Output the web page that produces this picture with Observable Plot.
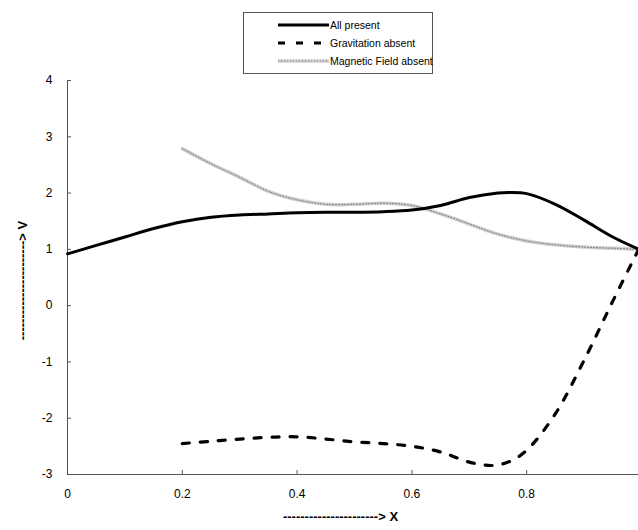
<!DOCTYPE html>
<html><head><meta charset="utf-8">
<script src="https://cdn.jsdelivr.net/npm/d3@7"></script>
<script src="https://cdn.jsdelivr.net/npm/@observablehq/plot@0.6"></script>
<style>body{margin:0;background:#fff} #chart{width:638px;height:530px}</style>
</head><body><div id="chart"></div>
<script>
// Data
const xAll = [0, 0.05, 0.1, 0.15, 0.2, 0.25, 0.3, 0.35, 0.4, 0.45, 0.5, 0.55, 0.6, 0.65, 0.7, 0.75, 0.77, 0.8, 0.85, 0.9, 0.95, 1.0];
const vAll = [0.92, 1.07, 1.22, 1.37, 1.49, 1.57, 1.61, 1.63, 1.65, 1.66, 1.66, 1.67, 1.70, 1.78, 1.92, 2.0, 2.01, 1.99, 1.80, 1.52, 1.22, 0.98];
const xGrav = [0.2, 0.25, 0.3, 0.35, 0.4, 0.45, 0.5, 0.55, 0.6, 0.65, 0.7, 0.74, 0.77, 0.8, 0.85, 0.9, 0.95, 1.0];
const vGrav = [-2.45, -2.41, -2.37, -2.34, -2.33, -2.37, -2.42, -2.45, -2.50, -2.60, -2.78, -2.84, -2.77, -2.57, -1.92, -0.97, 0.08, 1.1];
const xMag = [0.2, 0.25, 0.3, 0.35, 0.4, 0.45, 0.5, 0.55, 0.6, 0.65, 0.7, 0.75, 0.8, 0.85, 0.9, 0.95, 1.0];
const vMag = [2.79, 2.52, 2.28, 2.03, 1.88, 1.80, 1.80, 1.82, 1.78, 1.63, 1.45, 1.27, 1.15, 1.08, 1.04, 1.02, 1.0];
const xTicks = [0, 0.2, 0.4, 0.6, 0.8, 1];
const yTicks = [-3, -2, -1, 0, 1, 2, 3, 4];
const seriesNames = ["All present", "Gravitation absent", "Magnetic Field absent"];
const xTitle = "----------------------> X";
const yTitle = "-----------------------> V";

const allData = xAll.map((x, i) => ({x, v: vAll[i]}));
const gravData = xGrav.map((x, i) => ({x, v: vGrav[i]}));
const magData = xMag.map((x, i) => ({x, v: vMag[i]}));
const curve = "catmull-rom";
const font = "'Liberation Sans', Arial, sans-serif";

const plot = Plot.plot({
  width: 638, height: 530,
  marginLeft: 67, marginRight: -3, marginTop: 80, marginBottom: 56,
  style: {fontFamily: font, fontSize: "12px", background: "white", color: "black"},
  x: {domain: [0, 1]},
  y: {domain: [-3, 4]},
  marks: [
    Plot.ruleX([0], {stroke: "#555"}),
    Plot.ruleY([-3], {stroke: "#555"}),
    Plot.axisX(xTicks, {tickSize: -4, tickPadding: 19, tickFormat: d => String(d), label: null, stroke: "#555"}),
    Plot.axisY(yTicks, {tickSize: -4, tickPadding: 19, tickFormat: d => String(d), label: null, stroke: "#555"}),
    Plot.line(magData, {x: "x", y: "v", stroke: "#cfcfcf", strokeWidth: 3.5, curve}),
    Plot.line(magData, {x: "x", y: "v", stroke: "#777", strokeWidth: 1, strokeDasharray: "1,2", curve}),
    Plot.line(allData, {x: "x", y: "v", stroke: "black", strokeWidth: 3, curve}),
    Plot.line(gravData, {x: "x", y: "v", stroke: "black", strokeWidth: 3.2, strokeDasharray: "7,11", curve}),
    Plot.text([xTitle], {frameAnchor: "bottom", dy: 46, dx: -14, fontWeight: "bold", fontSize: 13}),
    Plot.text([yTitle], {frameAnchor: "left", textAnchor: "middle", dx: -45, dy: 3, rotate: -90, fontWeight: "bold", fontSize: 13})
  ]
});
document.getElementById("chart").append(plot);

// Legend box drawn into the same SVG
const svg = d3.select(plot);
const lg = svg.append("g").attr("font-family", font).attr("font-size", 10.5).attr("text-anchor", "start");
lg.append("rect").attr("x", 243.5).attr("y", 12.5).attr("width", 189).attr("height", 61)
  .attr("fill", "white").attr("stroke", "#555");
const styles = [
  [{stroke: "black", w: 3, dash: null}],
  [{stroke: "black", w: 3.2, dash: "7,11"}],
  [{stroke: "#cfcfcf", w: 3.5, dash: null}, {stroke: "#777", w: 1, dash: "1,2"}]
];
seriesNames.forEach((name, i) => {
  const y = 25 + 18 * i;
  styles[i].forEach(s => {
    lg.append("line").attr("x1", 278).attr("x2", 329).attr("y1", y).attr("y2", y)
      .attr("stroke", s.stroke).attr("stroke-width", s.w).attr("stroke-dasharray", s.dash);
  });
  lg.append("text").attr("x", 330).attr("y", y).attr("dy", "0.35em").attr("textLength", null).text(name);
});
</script>
</body></html>
